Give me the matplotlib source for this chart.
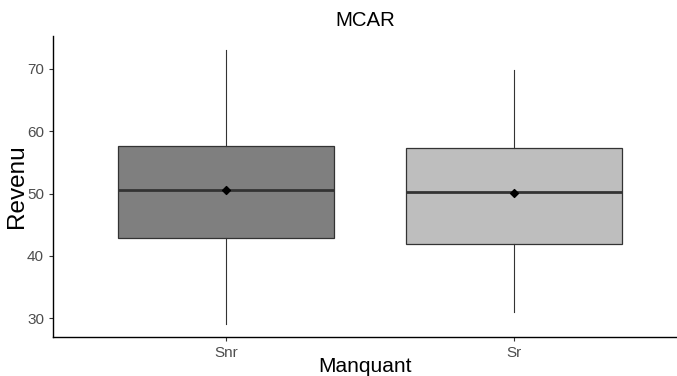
import matplotlib
matplotlib.use("Agg")
import matplotlib.pyplot as plt

plt.rcParams['font.family'] = ['Liberation Sans', 'DejaVu Sans']

categories = ["Snr", "Sr"]
whisker_low = [29.0, 31.0]
q1 = [42.9, 41.9]
medians = [50.6, 50.3]
q3 = [57.6, 57.3]
whisker_high = [73.1, 69.8]
means = [50.5, 50.1]
fills = ["#7f7f7f", "#bebebe"]

fig = plt.figure(figsize=(6.77, 3.76), dpi=100)
ax = fig.add_axes([53 / 677, 39 / 376, 624 / 677, 301 / 376])

stats = []
for i, c in enumerate(categories):
    stats.append(dict(label=c, whislo=whisker_low[i], q1=q1[i], med=medians[i],
                      q3=q3[i], whishi=whisker_high[i], mean=means[i], fliers=[]))

pos = list(range(1, len(categories) + 1))
bp = ax.bxp(stats, positions=pos, widths=0.75, patch_artist=True, showcaps=False,
            showmeans=False,
            boxprops=dict(edgecolor="#333333", linewidth=0.9),
            whiskerprops=dict(color="#333333", linewidth=0.8),
            medianprops=dict(color="#333333", linewidth=2.0))
for patch, f in zip(bp['boxes'], fills):
    patch.set_facecolor(f)

ax.scatter(pos, means, marker="D", s=16, color="black", zorder=5)

ax.set_xlim(0.4, 0.4 + 624 / 288)
ax.set_ylim(26.95, 75.3)
ax.set_yticks([30, 40, 50, 60, 70])
ax.set_xticks(pos)
ax.set_xticklabels(categories)

for s in ["top", "right"]:
    ax.spines[s].set_visible(False)
for s in ["left", "bottom"]:
    ax.spines[s].set_color("black")
    ax.spines[s].set_linewidth(1.0)
ax.tick_params(colors="#333333", labelcolor="#4d4d4d", labelsize=11, length=3, width=0.8)

ax.set_xlabel("Manquant", fontsize=15, color="black", va="center")
ax.xaxis.set_label_coords(0.5, -(366 - 337) / 301)
ax.set_ylabel("Revenu", fontsize=17.5, color="black", va="center")
ax.yaxis.set_label_coords(-(53 - 17) / 624, 0.5)
fig.text((53 + 677) / 2 / 677, 1 - 21 / 376, "MCAR", fontsize=14.7, ha="center", va="center")

fig.savefig("out.png", dpi=100)
